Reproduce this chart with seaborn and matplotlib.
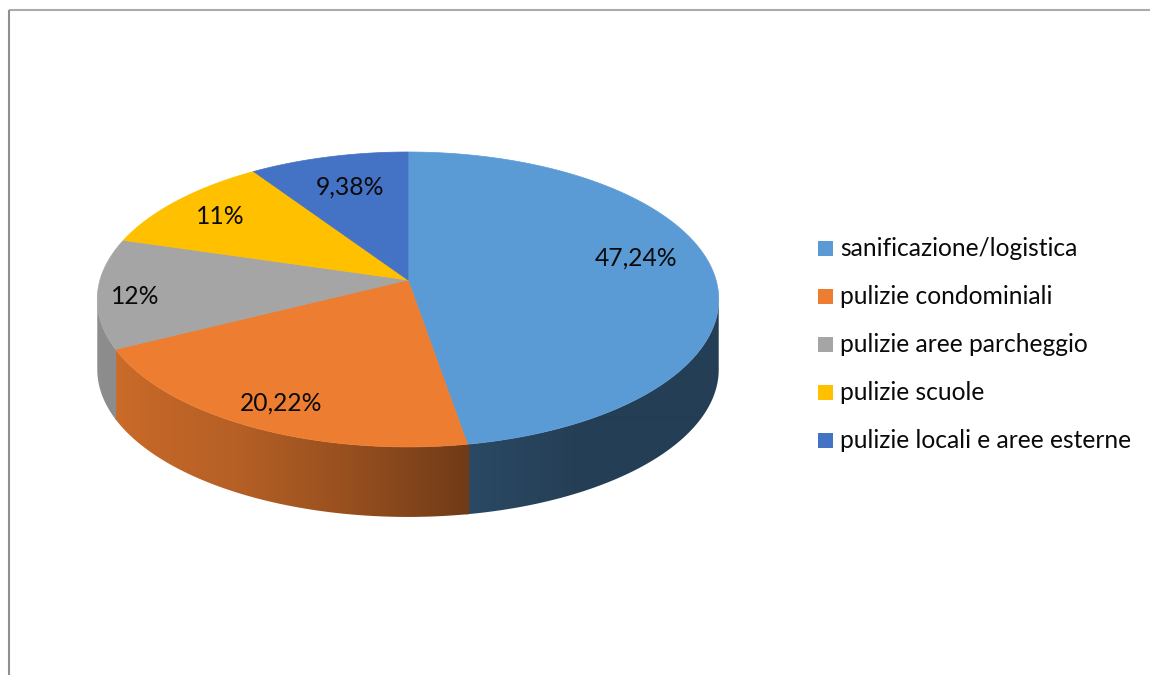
import numpy as np
import matplotlib
matplotlib.use("Agg")
import matplotlib.pyplot as plt
import seaborn as sns
from matplotlib.patches import Polygon, Rectangle
from matplotlib.colors import to_rgb

# ---------------- data ----------------
categories = ["sanificazione/logistica", "pulizie condominiali",
              "pulizie aree parcheggio", "pulizie scuole",
              "pulizie locali e aree esterne"]
values = [47.24, 20.22, 12, 11, 9.38]
value_labels = ["47,24%", "20,22%", "12%", "11%", "9,38%"]

# ---------------- style / layout ----------------
colors = sns.color_palette(["#5B9BD5", "#ED7D31", "#A5A5A5", "#FFC000", "#4472C4"])
label_pos = [(636, 258), (281, 403), (135, 296), (220, 217), (350, 187)]

sns.set_theme(style="white")
plt.rcParams['font.family'] = ['Lato', 'DejaVu Sans']

W, H = 1150, 675
fig = plt.figure(figsize=(W / 100, H / 100), dpi=100)
ax = fig.add_axes([0, 0, 1, 1])
ax.set_xlim(0, W)
ax.set_ylim(H, 0)
ax.axis('off')

# frame (top and left edges visible)
ax.plot([8.5, W], [9.5, 9.5], color="#ababab", lw=1.5, solid_capstyle='butt')
ax.plot([8.5, 8.5], [9.5, H], color="#8f8f8f", lw=1.5, solid_capstyle='butt')

# perspective projection of the pie disk
CX, CY, A, B, K, DEPTH = 408, 280, 308, 144.9, 0.132, 70


def proj(theta_deg, r=1.0):
    t = np.radians(theta_deg)
    u = r * np.cos(t)
    v = r * np.sin(t)
    d = 1 + K * v
    return CX + A * u / d, CY - B * v / d


fractions = np.array(values) / np.sum(values)
bounds = 90 - 360 * np.concatenate([[0], np.cumsum(fractions)])

vis_right = -np.degrees(np.arcsin(K))
vis_left = -180 - vis_right

# lighting of the side wall as a function of the wall angle
shade_t = np.array([-180, -150, -120, -100, -80, -60, 0])
shade_f = np.array([0.86, 0.85, 0.77, 0.64, 0.47, 0.40, 0.40])
tt = np.linspace(vis_left, vis_right, 400)
xx, _ = proj(tt)
ximg = np.linspace(80, 740, 660)
fimg = np.interp(ximg, xx, np.interp(tt, shade_t, shade_f))

# side walls, shaded with a horizontal gradient clipped to each wall
for i in range(len(values)):
    start, end = bounds[i], bounds[i + 1]
    hi = min(start + 0.3, vis_right)
    lo = max(end - 0.3, vis_left)
    if lo >= hi:
        continue
    ts = np.linspace(lo, hi, 300)
    xs, ys = proj(ts)
    pts = list(zip(xs, ys)) + list(zip(xs[::-1], ys[::-1] + DEPTH))
    poly = Polygon(pts, closed=True, facecolor='none', edgecolor='none')
    ax.add_patch(poly)
    base = np.array(to_rgb(colors[i]))
    img = np.clip(base[None, None, :] * fimg[None, :, None], 0, 1)
    img = np.repeat(img, 2, axis=0)
    im = ax.imshow(img, extent=(ximg[0], ximg[-1], 540, 250), aspect='auto',
                   interpolation='bilinear', zorder=1)
    im.set_clip_path(poly)

ax.set_xlim(0, W)
ax.set_ylim(H, 0)

# top faces
for i in range(len(values)):
    ts = np.linspace(bounds[i], bounds[i + 1], 300)
    xs, ys = proj(ts)
    pts = [(CX, CY)] + list(zip(xs, ys))
    ax.add_patch(Polygon(pts, closed=True, facecolor=colors[i], edgecolor=colors[i],
                         lw=0.5, zorder=2))

# font size fitted to legend text width
renderer = fig.canvas.get_renderer()
probe = ax.text(0, 0, categories[0], fontsize=18)
w = probe.get_window_extent(renderer).width
probe.remove()
fs = 18 * 237 / w

for (x, y), lab in zip(label_pos, value_labels):
    ax.text(x, y, lab, fontsize=fs, color="#0a0a0a", ha='center', va='center', zorder=5)

# legend
ly0, ldy = 248, 48
for i, cat in enumerate(categories):
    y = ly0 + i * ldy
    ax.add_patch(Rectangle((818, y - 7.5), 15, 15, facecolor=colors[i], edgecolor='none', zorder=5))
    ax.text(840, y, cat, fontsize=fs, color="#0a0a0a", ha='left', va='center', zorder=5)

fig.savefig("out.png", dpi=100, facecolor="white")
